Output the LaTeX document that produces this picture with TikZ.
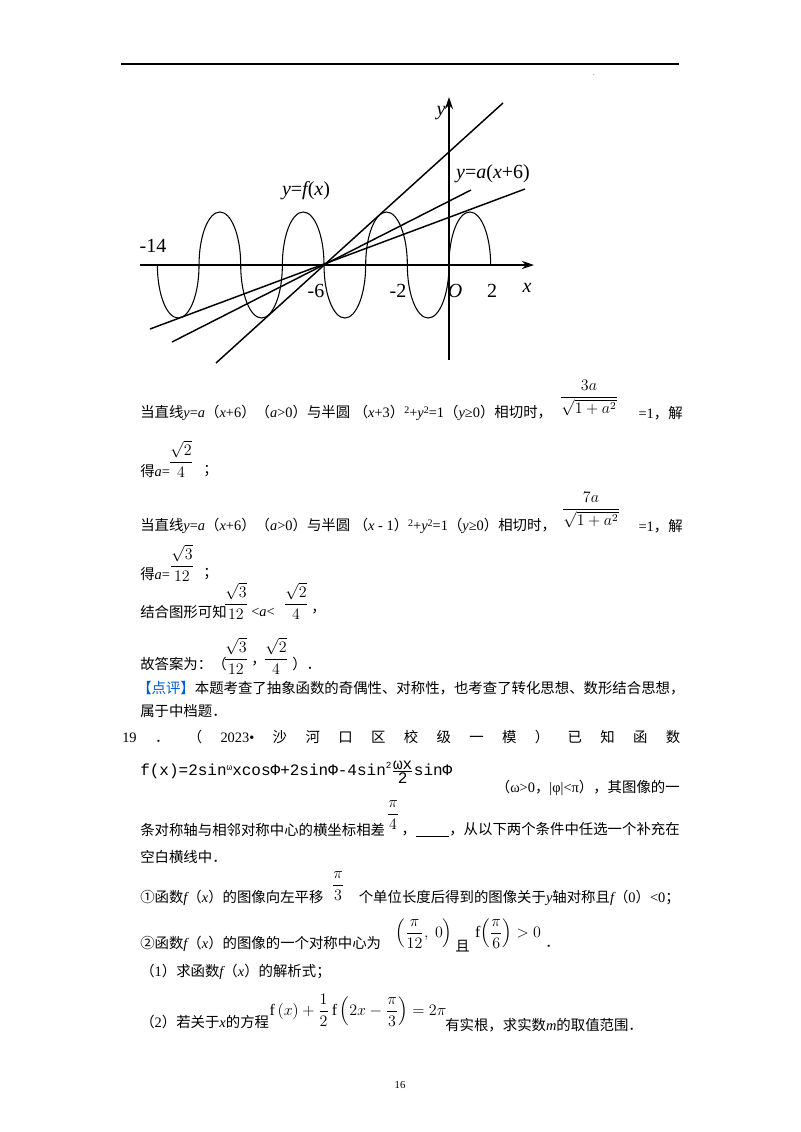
\documentclass[tikz,border=0pt]{standalone}
\usepackage{amsmath}
\usepackage{fontspec}
\usetikzlibrary{arrows.meta}
\setmainfont{Liberation Serif}
\newfontfamily\cjk{Noto Sans CJK SC}
\newfontfamily\lat{Liberation Serif}
\newfontfamily\mono{Liberation Mono}
\newcommand\iv[1]{{\lat\itshape #1}}
\newcommand\sq[1]{\raisebox{0.55ex}{\lat\fontsize{7.5}{8}\selectfont #1}}
\newXeTeXintercharclass\cjkclass
\count255="4E00 \loop \XeTeXcharclass\count255=\cjkclass \advance\count255 by 1 \ifnum\count255<"A000 \repeat
\count255="3000 \loop \XeTeXcharclass\count255=\cjkclass \advance\count255 by 1 \ifnum\count255<"3040 \repeat
\count255="FF00 \loop \XeTeXcharclass\count255=\cjkclass \advance\count255 by 1 \ifnum\count255<"FFF0 \repeat
\XeTeXcharclass"2460=\cjkclass \XeTeXcharclass"2461=\cjkclass
\XeTeXinterchartoks 0 \cjkclass = {\cjk}
\XeTeXinterchartoks 4095 \cjkclass = {\cjk}
\XeTeXinterchartoks \cjkclass 0 = {\lat}
\XeTeXinterchartoks \cjkclass 4095 = {\lat}
\begin{document}
\XeTeXinterchartokenstate=1
\begin{tikzpicture}[x=0.75pt,y=-0.75pt,
  tx/.style={anchor=west,inner sep=0,font=\lat\fontsize{10.8}{12}\selectfont},
  te/.style={anchor=east,inner sep=0,font=\lat\fontsize{10.8}{12}\selectfont},
  fr/.style={inner sep=0,font=\fontsize{12}{13}\selectfont},
  gl/.style={inner sep=0,font=\lat\fontsize{15}{16}\selectfont},
  arcl/.style={line width=0.8pt},
  tl/.style={line width=1.1pt}]
\useasboundingbox (0,0) rectangle (800,1132);
\fill[white] (0,0) rectangle (800,1132);
\draw[line width=0.8pt] (121,64) -- (679,64);
\node[inner sep=0,font=\tiny] (dot) at (594,75) {.};
% graph
\coordinate (xs) at (140,265); \coordinate (xe) at (534,265);
\coordinate (ys) at (449,360); \coordinate (ye) at (449,97);
\draw[line width=1.3pt,-{Stealth[length=9pt,width=6pt]}] (xs) -- (xe);
\draw[line width=1.3pt,-{Stealth[length=9pt,width=6pt]}] (ys) -- (ye);
\foreach \c in {-13,-9,-5,-1}
  \draw[arcl] ({449+(\c-1)*20.83},265) arc[start angle=180,end angle=0,x radius=20.83,y radius=53];
\foreach \c in {-11,-7,-3,1}
  \draw[arcl] ({449+(\c-1)*20.83},265) arc[start angle=180,end angle=360,x radius=20.83,y radius=53];
\coordinate (P) at (324,265);
\coordinate (a1) at (216,363); \coordinate (b1) at (503,103);
\coordinate (a2) at (172,342); \coordinate (b2) at (471,190);
\coordinate (a3) at (150,329); \coordinate (b3) at (525,189);
\draw[tl] (a1) -- (b1); \draw[tl] (a2) -- (b2); \draw[tl] (a3) -- (b3);
\node[gl] (ly) at (441,113) {\itshape y};
\node[gl] (lf) at (306,191) {\itshape y\upshape =\itshape f\upshape (\itshape x\upshape )};
\node[gl] (la) at (493,174) {\itshape y\upshape =\itshape a\upshape (\itshape x\upshape +6)};
\node[gl] (l14) at (153,246) {-14};
\node[gl] (l6) at (316,291) {-6};
\node[gl] (l2) at (398,291) {-2};
\node[gl] (lO) at (455,291) {\itshape O};
\node[gl] (l2p) at (492,291) {2};
\node[gl] (lx) at (527,288) {\itshape x};
% text
\node[tx] (t1) at (140,413) {当直线\iv{y}=\iv{a}（\iv{x}+6）（\iv{a}>0）与半圆 （\iv{x}+3）\sq{2}+\iv{y}\sq{2}=1（\iv{y}≥0）相切时，};
\node[fr] (f1) at (589,398) {$\dfrac{3a}{\sqrt{1+a^{2}}}$};
\node[te] (t1b) at (683,413) {=1，解};
\node[tx] (t2) at (140,471) {得\iv{a}=};
\node[fr] (f2) at (181,459) {$\dfrac{\sqrt{2}}{4}$};
\node[tx] (t2b) at (203,471) {；};
\node[tx] (t3) at (140,526) {当直线\iv{y}=\iv{a}（\iv{x}+6）（\iv{a}>0）与半圆 （\iv{x} - 1）\sq{2}+\iv{y}\sq{2}=1（\iv{y}≥0）相切时，};
\node[fr] (f3) at (591,510) {$\dfrac{7a}{\sqrt{1+a^{2}}}$};
\node[te] (t3b) at (683,526) {=1，解};
\node[tx] (t4) at (140,574) {得\iv{a}=};
\node[fr] (f4) at (182,563) {$\dfrac{\sqrt{3}}{12}$};
\node[tx] (t4b) at (203,574) {；};
\node[tx] (t5) at (140,612) {结合图形可知};
\node[fr] (f5) at (236,601) {$\dfrac{\sqrt{3}}{12}$};
\node[tx] (t5b) at (251,612) {<\iv{a}<};
\node[fr] (f5b) at (296,601) {$\dfrac{\sqrt{2}}{4}$};
\node[tx] (t5c) at (311,612) {，};
\node[tx] (t6) at (140,664) {故答案为：（};
\node[fr] (f6) at (236,656) {$\dfrac{\sqrt{3}}{12}$};
\node[tx] (t6b) at (251,664) {，};
\node[fr] (f6b) at (276,656) {$\dfrac{\sqrt{2}}{4}$};
\node[tx] (t6c) at (292,664) {）．};
\node[tx] (t7) at (137,688) {{\color[RGB]{0,90,220}【点评】}本题考查了抽象函数的奇偶性、对称性，也考查了转化思想、数形结合思想，};
\node[tx] (t8) at (140,711) {属于中档题．};
\node[tx] (t9) at (122,737) {\makebox[418.5pt][s]{19\hfill ．\hfill （\hfill 2023•\hfill 沙\hfill 河\hfill 口\hfill 区\hfill 校\hfill 级\hfill 一\hfill 模\hfill ）\hfill 已\hfill 知\hfill 函\hfill 数}};
\node[tx,font=\mono\fontsize{12}{13}\selectfont] (t10) at (140,772) {f(x)=2sin\raisebox{0.6ex}{\scriptsize ω}xcosΦ+2sinΦ-4sin\raisebox{0.9ex}{\scriptsize 2}$\genfrac{}{}{0.4pt}{}{\hbox{\mono ωx}}{\hbox{\mono 2}}$sinΦ};
\node[te] (t10b) at (680,788) {（ω>0，|φ|<π），其图像的一};
\node[fr] (f11) at (393,815) {$\dfrac{\pi}{4}$};
\node[tx] (t11) at (140,830) {条对称轴与相邻对称中心的横坐标相差};
\node[te] (t11b) at (680,830) {，\underline{\hspace{25pt}}，从以下两个条件中任选一个补充在};
\node[tx] (t12) at (140,857) {空白横线中．};
\node[tx] (t13) at (140,898) {①函数\iv{f}（\iv{x}）的图像向左平移};
\node[fr] (f13) at (338,886) {$\dfrac{\pi}{3}$};
\node[te] (t13b) at (680,898) {个单位长度后得到的图像关于\iv{y}轴对称且\iv{f}（0）<0；};
\node[tx] (t14) at (140,944) {②函数\iv{f}（\iv{x}）的图像的一个对称中心为};
\node[fr] (f14) at (424,934) {$\Bigl(\dfrac{\pi}{12},\ 0\Bigr)$};
\node[tx] (t14b) at (455,946) {且};
\node[fr] (f14b) at (508,934) {$\mathrm{f}\Bigl(\dfrac{\pi}{6}\Bigr)>0$};
\node[tx] (t14c) at (545,946) {．};
\node[tx] (t15) at (140,972) {（1）求函数\iv{f}（\iv{x}）的解析式；};
\node[tx] (t16) at (140,1022) {（2）若关于\iv{x}的方程};
\node[fr] (f16) at (358,1010) {$\mathrm{f}\,(x)+\dfrac{1}{2}\,\mathrm{f}\,\Bigl(2x-\dfrac{\pi}{3}\Bigr)=2\pi$};
\node[tx] (t16b) at (445,1025) {有实根，求实数\iv{m}的取值范围．};
\node[inner sep=0,font=\lat\fontsize{8}{9}\selectfont] (pg) at (400,1085) {16};
\end{tikzpicture}
\end{document}
